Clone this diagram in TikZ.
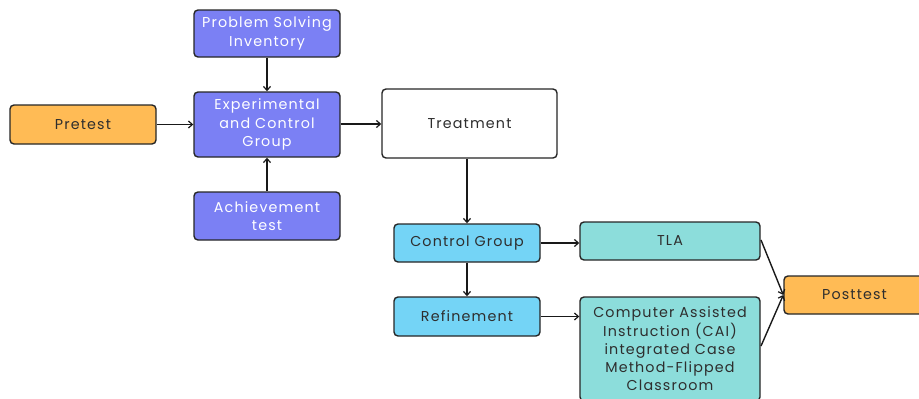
\documentclass[tikz,border=0pt]{standalone}
\usepackage{fontspec}
\setmainfont{Poppins}[LetterSpace=8]
\usetikzlibrary{arrows.meta}
\definecolor{purp}{HTML}{7B80F4}
\definecolor{orng}{HTML}{FFBB55}
\definecolor{lblue}{HTML}{74D4F6}
\definecolor{teal}{HTML}{8CDDDB}
\definecolor{txt}{HTML}{2E2E2E}
\tikzset{
  box/.style={draw=black!85, line width=1.4pt, rounded corners=4pt, align=center, inner sep=0pt, font=\fontsize{14.3}{18.3}\selectfont},
  pbox/.style={box, fill=purp, text=white},
  obox/.style={box, fill=orng, text=txt},
  wbox/.style={box, fill=white, text=txt},
  bbox/.style={box, fill=lblue, text=txt},
  tbox/.style={box, fill=teal, text=txt},
  conn/.style={line width=1.4pt, draw=black!90, -{Straight Barb[length=4pt,width=7pt,line width=1.2pt]}}
}
\begin{document}
\begin{tikzpicture}[x=1pt,y=-1pt]
\useasboundingbox (0,0) rectangle (919,399);
\node[pbox, minimum width=146pt, minimum height=47pt] (psi) at (267,33.5) {Problem Solving\\Inventory};
\node[pbox, minimum width=146pt, minimum height=65pt] (exp) at (267,124.5) {Experimental\\and Control\\Group};
\node[pbox, minimum width=146pt, minimum height=48pt] (ach) at (267,216) {Achievement\\test};
\node[obox, minimum width=146pt, minimum height=39pt] (pre) at (83,124.5) {Pretest};
\node[wbox, minimum width=175pt, minimum height=69pt] (tre) at (469.5,123.5) {Treatment};
\node[bbox, minimum width=146pt, minimum height=38pt] (cg) at (467,243) {Control Group};
\node[bbox, minimum width=146pt, minimum height=39pt] (ref) at (467,316.5) {Refinement};
\node[tbox, minimum width=180pt, minimum height=38pt] (tla) at (670,241) {TLA};
\node[tbox, minimum width=180pt, minimum height=104pt] (cai) at (670,349) {Computer Assisted\\Instruction (CAI)\\integrated Case\\Method-Flipped\\Classroom};
\node[obox, minimum width=141pt, minimum height=38pt] (post) at (854.5,295) {Posttest};
\coordinate (expout) at (exp.east |- 0,124);
\coordinate (trein) at (tre.west |- 0,124);
\coordinate (tlaout) at (761,240);
\coordinate (caiout) at (761,346);
\draw[conn] (psi.south) -- (exp.north);
\draw[conn] (ach.north) -- (exp.south);
\draw[conn] (pre.east) -- (exp.west);
\draw[conn] (expout) -- (trein);
\draw[conn] (tre.south -| cg.north) -- (cg.north);
\draw[conn] (cg.south) -- (ref.north);
\draw[conn] (cg.east) -- (tla.west |- cg.east);
\draw[conn] (ref.east) -- (cai.west |- ref.east);
\draw[conn] (tlaout) -- (post.west);
\draw[conn] (caiout) -- (post.west);
\end{tikzpicture}
\end{document}
